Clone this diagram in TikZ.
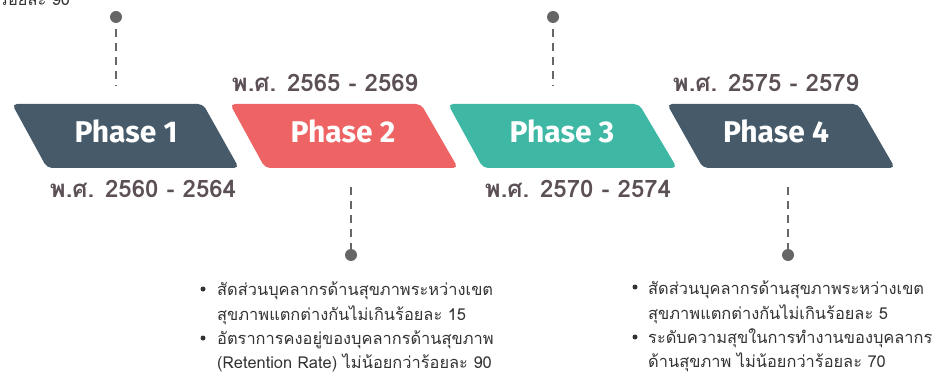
\documentclass[tikz,border=0pt]{standalone}
\usepackage{fontspec}
\setmainfont{Fira Sans}
\newfontfamily\thai[Script=Thai]{Loma}
\definecolor{slate}{HTML}{465A69}
\definecolor{coral}{HTML}{EE6464}
\definecolor{teal}{HTML}{3EB8A4}
\definecolor{datecol}{HTML}{5C5057}
\definecolor{dotcol}{HTML}{666666}
\definecolor{bulletcol}{HTML}{333333}
\begin{document}
\begin{tikzpicture}[x=1pt,y=-1pt,
  phasebox/.style={rounded corners=5pt},
  phasetext/.style={text=white,anchor=base,font=\fontsize{30}{30}\selectfont\bfseries},
  datetext/.style={text=datecol,anchor=base,font=\thai\fontsize{24}{24}\selectfont\bfseries},
  dotnode/.style={circle,fill=dotcol,inner sep=0pt,minimum size=12pt},
  dashline/.style={draw=dotcol,line width=2pt,dash pattern=on 8pt off 6pt},
  linetext/.style={text=bulletcol,anchor=base west,inner sep=0pt,font=\thai\fontsize{16.4}{16.4}\selectfont},
  bulletdot/.style={circle,fill=bulletcol,inner sep=0pt,minimum size=5pt}
]
\useasboundingbox (0,0) rectangle (939,374);
\clip (0,0) rectangle (939,374);

% phase shapes
\fill[slate,phasebox] (12,104) -- (203,104) -- (239,168) -- (47,168) -- cycle;
\fill[coral,phasebox] (230,104) -- (421,104) -- (458,168) -- (265,168) -- cycle;
\fill[teal,phasebox] (448,104) -- (639,104) -- (677,168) -- (483,168) -- cycle;
\fill[slate,phasebox] (667,104) -- (858,104) -- (895,168) -- (703,168) -- cycle;

\node[phasetext] (p1) at (126,143) {Phase 1};
\node[phasetext] (p2) at (343,143) {Phase 2};
\node[phasetext] (p3) at (562,143) {Phase 3};
\node[phasetext] (p4) at (776,143) {Phase 4};

% dates
\node[datetext] (d1) at (143,197) {พ.ศ. 2560 - 2564};
\node[datetext] (d2) at (325,92) {พ.ศ. 2565 - 2569};
\node[datetext] (d3) at (578,197) {พ.ศ. 2570 - 2574};
\node[datetext] (d4) at (766,92) {พ.ศ. 2575 - 2579};

% dots and dashed connectors
\node[dotnode] (t1) at (116,17) {};
\coordinate (e1) at (116,86);
\draw[dashline] (t1.south) ++(0,6) -- (e1);
\node[dotnode] (t3) at (553,17) {};
\coordinate (e3) at (553,86);
\draw[dashline] (t3.south) ++(0,6) -- (e3);
\node[dotnode] (b2) at (351,255) {};
\coordinate (f2) at (351,187);
\draw[dashline] (f2) -- ([yshift=-6pt]b2.north);
\node[dotnode] (b4) at (788,255) {};
\coordinate (f4) at (788,187);
\draw[dashline] (f4) -- ([yshift=-6pt]b4.north);

% cut-off text at top left
\node[linetext] (top) at (-1,6) {ร้อยละ 90};

% phase 2 bullets
\node[bulletdot] (q1) at (203,289) {};
\node[linetext] (l21) at (217,295) {สัดส่วนบุคลากรด้านสุขภาพระหว่างเขต};
\node[linetext] (l22) at (217,320) {สุขภาพแตกต่างกันไม่เกินร้อยละ 15};
\node[bulletdot] (q2) at (203,338) {};
\node[linetext] (l23) at (217,344) {อัตราการคงอยู่ของบุคลากรด้านสุขภาพ};
\node[linetext] (l24) at (217,368) {(Retention Rate) ไม่น้อยกว่าร้อยละ 90};

% phase 4 bullets
\node[bulletdot] (q3) at (635,287) {};
\node[linetext] (l41) at (648,294) {สัดส่วนบุคลากรด้านสุขภาพระหว่างเขต};
\node[linetext] (l42) at (648,319) {สุขภาพแตกต่างกันไม่เกินร้อยละ 5};
\node[bulletdot] (q4) at (635,337) {};
\node[linetext] (l43) at (648,343) {ระดับความสุขในการทำงานของบุคลากร};
\node[linetext] (l44) at (648,367) {ด้านสุขภาพ ไม่น้อยกว่าร้อยละ 70};
\end{tikzpicture}
\end{document}
